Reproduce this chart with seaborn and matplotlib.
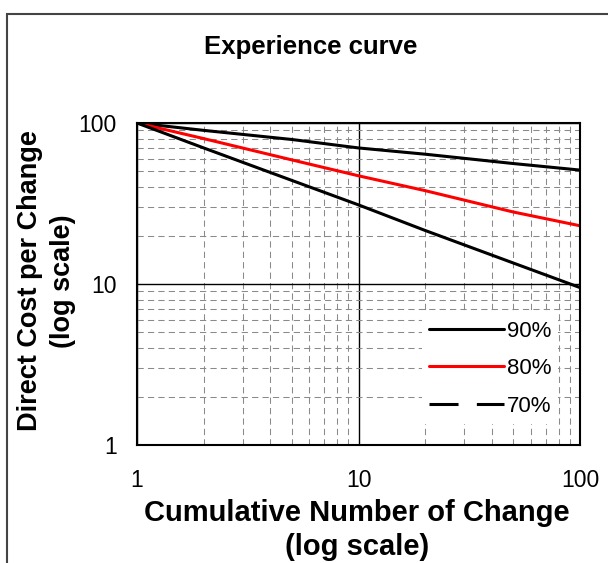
import numpy as np
import pandas as pd
import seaborn as sns
import matplotlib
matplotlib.use('Agg')
import matplotlib.pyplot as plt
from matplotlib.lines import Line2D
from matplotlib.patches import Rectangle
from matplotlib.ticker import LogLocator, NullFormatter, FixedLocator


# values
units = [1, 2, 5, 10, 20, 50, 100]
cost_90 = [100, 90, 79, 70, 64, 56, 51]
cost_80 = [100, 80, 59, 47, 38, 28, 23]
cost_70 = [100, 70, 44, 31, 21.5, 13.5, 9.5]
labels = ['90%', '80%', '70%']
colors = ['black', 'red', 'black']
legend_styles = ['-', '-', (0, (9.5, 6))]

sns.set_style('white')
plt.rcParams['font.family'] = ['Liberation Sans', 'DejaVu Sans']
for key in ('text.color', 'axes.labelcolor', 'xtick.color', 'ytick.color'):
    plt.rcParams[key] = 'black'

df = pd.DataFrame({
    'units': units * 3,
    'cost': cost_90 + cost_80 + cost_70,
    'rate': [lab for lab in labels for _ in units],
})

W, H = 608, 563
fig = plt.figure(figsize=(W / 100, H / 100), dpi=100)
ax = fig.add_axes([137 / W, 1 - 445 / H, (580 - 137) / W, (445 - 123) / H])

sns.lineplot(data=df, x='units', y='cost', hue='rate', hue_order=labels,
             palette=dict(zip(labels, colors)), linewidth=2.2, legend=False, ax=ax)

ax.set_xscale('log')
ax.set_yscale('log')
ax.set_xlim(1, 100)
ax.set_ylim(1, 100)

ax.xaxis.set_major_locator(FixedLocator([1, 10, 100]))
ax.yaxis.set_major_locator(FixedLocator([1, 10, 100]))
ax.set_xticklabels(['1', '10', '100'])
ax.set_yticklabels(['1', '10', '100'])
for axis in (ax.xaxis, ax.yaxis):
    axis.set_minor_locator(LogLocator(base=10, subs=np.arange(2, 10)))
    axis.set_minor_formatter(NullFormatter())

ax.grid(which='major', color='black', linestyle='-', linewidth=1.0)
ax.grid(which='minor', color='#8a8a8a', linestyle=(0, (6, 4)), linewidth=0.75)
ax.tick_params(which='major', direction='out', length=6.5, width=1.2,
               labelsize=16.5)
ax.tick_params(axis='x', which='major', pad=11)
ax.tick_params(axis='y', which='major', pad=8)
ax.tick_params(which='minor', length=0)

for sp in ax.spines.values():
    sp.set_color('black')
    sp.set_linewidth(1.5)

ax.set_xlabel('')
ax.set_ylabel('')
fig.text(357 / W, 1 - 530 / H, 'Cumulative Number of Change\n(log scale)',
         ha='center', va='center', multialignment='center',
         fontsize=21, fontweight='bold', linespacing=1.25)
fig.text(46.5 / W, 1 - 281 / H, 'Direct Cost per Change\n(log scale)',
         ha='center', va='center', multialignment='center', rotation=90,
         fontsize=19.5, fontweight='bold', linespacing=1.3)
fig.text(311 / W, 1 - 47 / H, 'Experience curve', ha='center', va='center',
         fontsize=18.5, fontweight='bold')

handles = [Line2D([0], [0], color=c, linestyle=ls, linewidth=2.2)
           for c, ls in zip(colors, legend_styles)]
leg = ax.legend(handles, labels, loc='lower right', bbox_to_anchor=(0.975, 0.032),
                frameon=True, fontsize=16, handlelength=3.4, handletextpad=0.1,
                labelspacing=0.75, borderpad=0.3, fancybox=False)
leg.get_frame().set_facecolor('white')
leg.get_frame().set_edgecolor('none')
leg.get_frame().set_alpha(1)

fig.patches.append(Rectangle((7 / W, -0.1), 2, 1 - 14 / H + 0.1,
                             transform=fig.transFigure, fill=False,
                             edgecolor='#444444', linewidth=1.5))

fig.savefig('out.png', dpi=100)
